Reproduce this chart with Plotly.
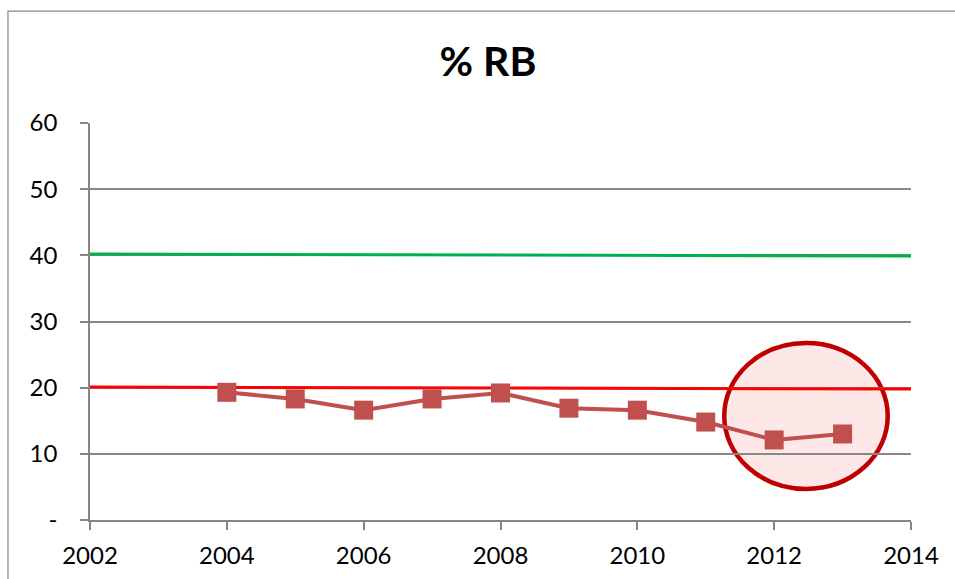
import plotly.graph_objects as go

years = [2004, 2005, 2006, 2007, 2008, 2009, 2010, 2011, 2012, 2013]
rb_pct = [19.3, 18.3, 16.6, 18.3, 19.2, 16.9, 16.6, 14.8, 12.1, 13.0]

target_years = [2002, 2014]
green_target = [40.2, 39.9]
red_target = [20.1, 19.8]

y_ticks = [0, 10, 20, 30, 40, 50, 60]
y_ticktext = ["-", "10", "20", "30", "40", "50", "60"]
x_ticks = [2002, 2004, 2006, 2008, 2010, 2012, 2014]

fig = go.Figure()

fig.add_trace(go.Scatter(x=target_years, y=green_target, mode="lines",
                         line=dict(color="#00B050", width=3), showlegend=False))
fig.add_trace(go.Scatter(x=target_years, y=red_target, mode="lines",
                         line=dict(color="#FF0000", width=3), showlegend=False))
fig.add_trace(go.Scatter(x=years, y=rb_pct, mode="lines+markers",
                         line=dict(color="#C0504D", width=4),
                         marker=dict(symbol="square", size=19, color="#C0504D"),
                         showlegend=False))

# highlight circle
fig.add_shape(type="circle", xref="x", yref="y",
              x0=2011.27, x1=2013.66, y0=4.7, y1=26.75,
              line=dict(color="#C00000", width=4.5),
              fillcolor="rgba(245,120,120,0.18)", layer="below")

# chart frame
fig.add_shape(type="rect", xref="paper", yref="paper",
              x0=-0.0999, x1=1.1, y0=-0.3, y1=1.282,
              line=dict(color="#868686", width=1.2), fillcolor="rgba(0,0,0,0)")

fig.update_layout(
    width=955, height=579,
    margin=dict(l=90, r=44, t=123, b=59, autoexpand=False),
    paper_bgcolor="white", plot_bgcolor="white",
    font=dict(family="Lato", color="black", size=24),
    title=dict(text="<b>% RB</b>", x=(488 - 90) / 821, xref="paper", xanchor="center",
               y=1 - 62 / 579, yanchor="middle", font=dict(size=41, family="Lato")),
    xaxis=dict(range=[2002, 2014], tickvals=x_ticks, showgrid=False, automargin=False,
               showline=True, linecolor="#868686", linewidth=1.5,
               ticks="outside", ticklen=8, tickcolor="#868686", tickwidth=1.5,
               ticklabelstandoff=5, zeroline=False),
    yaxis=dict(range=[0, 60], tickvals=y_ticks, ticktext=y_ticktext, automargin=False,
               showgrid=True, gridcolor="#888888", gridwidth=1.5,
               showline=True, linecolor="#868686", linewidth=1.5,
               ticks="outside", ticklen=8, tickcolor="#868686", tickwidth=1.5,
               ticklabelstandoff=18, zeroline=False),
)

fig.write_html("out.html")
